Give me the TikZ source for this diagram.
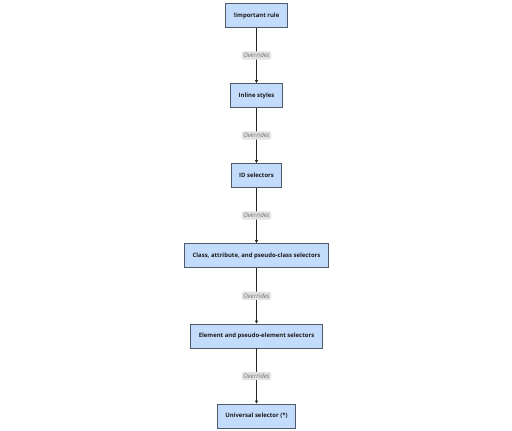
\documentclass[tikz,border=0pt]{standalone}
\usepackage{fontspec}
\setmainfont{Open Sans}
\usetikzlibrary{arrows.meta}
\definecolor{boxfill}{HTML}{C4DCFC}
\definecolor{boxline}{HTML}{4F5B6B}
\definecolor{lblfill}{HTML}{E2E2E2}
\definecolor{lbltext}{HTML}{707070}
\tikzset{
  rulebox/.style={draw=boxline, line width=0.8pt, fill=boxfill, minimum height=24pt, inner xsep=8pt,
    font=\fontsize{5.95pt}{7pt}\selectfont\bfseries, text=black!90},
  conn/.style={draw=black!85, line width=0.7pt, -{Triangle[length=3pt,width=3pt]}},
  lbl/.style={fill=lblfill, rounded corners=2pt, inner xsep=1.5pt, inner ysep=1.8pt,
    font=\fontsize{6.2pt}{7pt}\selectfont\itshape, text=lbltext}
}
\begin{document}
\begin{tikzpicture}[x=1pt,y=-1pt]
\useasboundingbox (0,0) rectangle (512,431);
\node[rulebox] (a) at (256.5,15.5) {!important rule};
\node[rulebox] (b) at (256.5,95.5) {Inline styles};
\node[rulebox] (c) at (256.5,175.5) {ID selectors};
\node[rulebox] (d) at (256.5,255.5) {Class, attribute, and pseudo-class selectors};
\node[rulebox] (e) at (256.5,336) {Element and pseudo-element selectors};
\node[rulebox] (f) at (256.5,416) {Universal selector (*)};
\draw[conn] (a) -- node[lbl] {Overrides} (b);
\draw[conn] (b) -- node[lbl] {Overrides} (c);
\draw[conn] (c) -- node[lbl] {Overrides} (d);
\draw[conn] (d) -- node[lbl] {Overrides} (e);
\draw[conn] (e) -- node[lbl] {Overrides} (f);
\end{tikzpicture}
\end{document}
